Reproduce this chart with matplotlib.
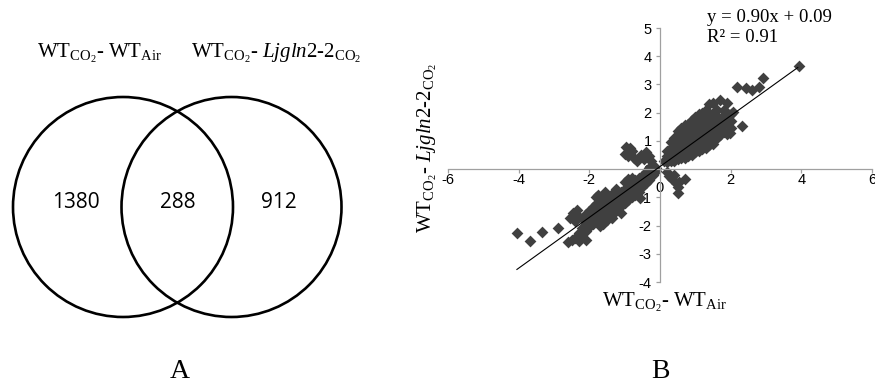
import matplotlib.pyplot as plt
from matplotlib.patches import Circle
from matplotlib.transforms import ScaledTranslation

plt.rcParams['font.family'] = 'Liberation Serif'
plt.rcParams['mathtext.fontset'] = 'custom'
plt.rcParams['mathtext.rm'] = 'Liberation Serif'
plt.rcParams['mathtext.it'] = 'Liberation Serif:italic'
plt.rcParams['axes.unicode_minus'] = False

# Venn counts: only WT CO2-Air, both, only WT CO2-Ljgln2-2
venn_counts = [1380, 288, 912]

# shared genes, (WT CO2 - WT Air, WT CO2 - Ljgln2-2 CO2)
up_band = [
    (0.1, 0.3), (0.2, 0.25), (0.2, 0.45), (0.2, 0.65),
    (0.3, 0.3), (0.3, 0.5), (0.3, 0.75), (0.3, 0.95),
    (0.4, 0.3), (0.4, 0.5), (0.4, 0.7), (0.4, 0.9), (0.4, 1.1),
    (0.5, 0.35), (0.5, 0.55), (0.5, 0.75), (0.5, 0.95), (0.5, 1.15), (0.5, 1.35),
    (0.6, 0.4), (0.6, 0.6), (0.6, 0.8), (0.6, 1.0), (0.6, 1.2), (0.6, 1.45),
    (0.7, 0.4), (0.7, 0.65), (0.7, 0.85), (0.7, 1.05), (0.7, 1.3), (0.7, 1.55),
    (0.8, 0.45), (0.8, 0.7), (0.8, 0.9), (0.8, 1.1), (0.8, 1.35), (0.8, 1.6),
    (0.9, 0.5), (0.9, 0.75), (0.9, 1.0), (0.9, 1.2), (0.9, 1.45), (0.9, 1.75),
    (1.0, 0.6), (1.0, 0.8), (1.0, 1.05), (1.0, 1.3), (1.0, 1.55), (1.0, 1.85),
    (1.1, 0.65), (1.1, 0.9), (1.1, 1.15), (1.1, 1.4), (1.1, 1.65), (1.1, 1.95),
    (1.2, 0.7), (1.2, 0.95), (1.2, 1.2), (1.2, 1.45), (1.2, 1.75), (1.2, 2.0),
    (1.3, 0.75), (1.3, 1.0), (1.3, 1.3), (1.3, 1.55), (1.3, 1.85), (1.3, 2.1),
    (1.4, 0.85), (1.4, 1.1), (1.4, 1.35), (1.4, 1.6), (1.4, 1.9), (1.4, 2.3),
    (1.5, 0.9), (1.5, 1.15), (1.5, 1.45), (1.5, 1.7), (1.5, 2.0), (1.5, 2.35),
    (1.6, 1.1), (1.6, 1.35), (1.6, 1.6), (1.6, 1.85), (1.6, 2.1),
    (1.7, 1.2), (1.7, 1.5), (1.7, 1.75), (1.7, 2.45),
    (1.8, 1.3), (1.8, 1.6), (1.8, 1.9), (1.8, 2.1),
    (1.9, 1.25), (1.9, 1.75), (1.9, 2.0), (1.9, 2.35),
    (2.0, 1.45), (2.0, 1.7), (2.0, 1.95),
]
up_outliers = [
    (3.92, 3.65), (2.91, 3.24), (2.17, 2.90), (2.43, 2.86), (2.60, 2.80),
    (2.79, 2.92), (2.31, 1.52), (1.98, 1.27), (2.08, 2.03),
]
off_upper = [
    (-0.95, 0.80), (-1.00, 0.55), (-0.90, 0.45), (-0.80, 0.65), (-0.75, 0.40),
    (-0.65, 0.30), (-0.55, 0.50), (-0.45, 0.35), (-0.40, 0.60), (-0.30, 0.45),
    (-0.25, 0.30), (-0.85, 0.75),
]
off_lower = [
    (0.20, -0.10), (0.25, -0.25), (0.35, -0.35), (0.40, -0.20), (0.45, -0.50),
    (0.50, -0.65), (0.50, -0.85), (0.70, -0.35), (0.55, -0.45),
]
low_band = [
    (-0.1, -0.05), (-0.1, 0.05), (-0.2, -0.2), (-0.2, 0.0), (-0.2, 0.1),
    (-0.3, -0.4), (-0.3, -0.15), (-0.3, 0.05),
    (-0.4, -0.5), (-0.4, -0.3), (-0.4, -0.1),
    (-0.5, -0.65), (-0.5, -0.45), (-0.5, -0.25),
    (-0.6, -0.8), (-0.6, -0.55), (-0.6, -0.3),
    (-0.7, -0.9), (-0.7, -0.65), (-0.7, -0.4),
    (-0.8, -1.0), (-0.8, -0.75), (-0.8, -0.5), (-0.8, -0.3),
    (-0.9, -1.1), (-0.9, -0.85), (-0.9, -0.6), (-0.9, -0.35),
    (-1.0, -1.2), (-1.0, -0.95), (-1.0, -0.7), (-1.0, -0.45),
    (-1.1, -1.3), (-1.1, -1.05), (-1.1, -0.8), (-1.1, -1.55),
    (-1.2, -1.4), (-1.2, -1.15), (-1.2, -0.9), (-1.25, -0.7),
    (-1.3, -1.55), (-1.3, -1.3), (-1.3, -1.05), (-1.35, -1.75),
    (-1.4, -1.7), (-1.4, -1.45), (-1.4, -1.15), (-1.4, -0.9),
    (-1.5, -1.8), (-1.5, -1.55), (-1.5, -1.3), (-1.5, -1.05), (-1.55, -0.8),
    (-1.6, -1.95), (-1.6, -1.65), (-1.6, -1.4), (-1.6, -1.1),
    (-1.7, -2.0), (-1.7, -1.75), (-1.7, -1.45), (-1.7, -1.2), (-1.75, -0.9),
    (-1.8, -1.85), (-1.8, -1.55), (-1.8, -1.25), (-1.8, -1.0),
    (-1.9, -1.95), (-1.9, -1.65), (-1.9, -1.35),
    (-2.0, -2.05), (-2.0, -1.75), (-2.0, -1.5),
    (-2.1, -2.2), (-2.1, -1.85), (-2.1, -1.6), (-2.1, -2.5),
    (-2.2, -2.4), (-2.2, -2.1), (-2.2, -1.75),
    (-2.3, -2.55), (-2.3, -2.25), (-2.3, -1.7), (-2.35, -1.45),
    (-2.4, -2.45), (-2.4, -1.85), (-2.45, -1.55), (-2.5, -2.5),
    (-2.55, -1.75), (-2.6, -2.6),
]
low_outliers = [
    (-4.06, -2.28), (-3.68, -2.55), (-3.35, -2.22), (-2.90, -2.07), (-0.57, -1.04),
]

slope, intercept = 0.90, 0.09
fit_x = [-4.05, 3.9]
fit_y = [slope * v + intercept for v in fit_x]

points = up_band + up_outliers + off_upper + off_lower + low_band + low_outliers
px = [p[0] for p in points]
py = [p[1] for p in points]

W, H = 875, 387
fig = plt.figure(figsize=(W / 100, H / 100), dpi=100)


def fx(x):
    return x / W


def fy(y):
    return 1 - y / H


# ---- panel A: Venn diagram (axes in pixel units) ----
av = fig.add_axes([0, 0, 0.5, 1])
av.set_xlim(0, W / 2)
av.set_ylim(H, 0)
av.axis('off')
r = 110
for cx in (123, 231.5):
    av.add_patch(Circle((cx, 207), r, fill=False, ec='black', lw=1.9))
for cx, n in zip((76, 178, 279), venn_counts):
    av.text(cx, 203, str(n), ha='center', va='center', fontsize=15,
            family='Open Sans')

av.text(100, 58, r'WT$_{\mathrm{CO}_2}$- WT$_{\mathrm{Air}}$',
        ha='center', va='baseline', fontsize=15)
av.text(276, 58, r'WT$_{\mathrm{CO}_2}$- $\mathit{Ljgln2}$-$\mathit{2}_{\mathrm{CO}_2}$',
        ha='center', va='baseline', fontsize=15)
av.text(180, 371, 'A', ha='center', va='center', fontsize=20)

# ---- panel B: scatter ----
ax = fig.add_axes([fx(448), fy(282), 424 / W, 254 / H])
ax.set_xlim(-6, 6)
ax.set_ylim(-4, 5)
for s in ('top', 'right'):
    ax.spines[s].set_visible(False)
for s in ('left', 'bottom'):
    ax.spines[s].set_position(('data', 0))
    ax.spines[s].set_color('#a0a0a0')
    ax.spines[s].set_linewidth(0.9)
ax.set_xticks(range(-6, 7, 2))
ax.set_yticks(range(-4, 6))
ax.tick_params(colors='#a0a0a0', labelcolor='black', labelsize=10.5,
               length=3, width=0.9)
ax.tick_params(axis='x', pad=0)
ax.tick_params(axis='y', pad=3)
for lab in ax.get_xticklabels() + ax.get_yticklabels():
    lab.set_family('Liberation Sans')
for lab in ax.get_xticklabels():
    if lab.get_text() == '0':
        lab.set_transform(lab.get_transform() +
                          ScaledTranslation(0, -8 / 100, fig.dpi_scale_trans))

ax.plot(fit_x, fit_y, color='black', lw=0.8, zorder=3)
ax.scatter(px, py, marker='D', s=36, color='#404040', lw=0, zorder=2)

fig.text(fx(427), fy(148),
         r'WT$_{\mathrm{CO}_2}$- $\mathit{Ljgln2}$-$\mathit{2}_{\mathrm{CO}_2}$',
         rotation=90, ha='center', va='center', fontsize=15)
fig.text(fx(665), fy(302), r'WT$_{\mathrm{CO}_2}$- WT$_{\mathrm{Air}}$',
         ha='center', va='center', fontsize=15)
fig.text(fx(707), fy(17), 'y = 0.90x + 0.09', ha='left', va='center',
         fontsize=13.5)
fig.text(fx(707), fy(38), 'R² = 0.91', ha='left', va='center',
         fontsize=13.5)
fig.text(fx(660), fy(371), 'B', ha='center', va='center', fontsize=20)

fig.savefig('out.png', dpi=100)
